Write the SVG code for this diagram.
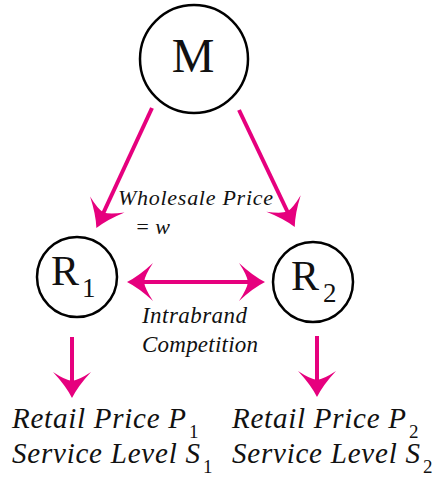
<svg xmlns="http://www.w3.org/2000/svg" width="436" height="479" viewBox="0 0 436 479">
<style>
.node{fill:#fff;stroke:#000;stroke-width:2.5}
.lbl{font-family:"Liberation Serif","Times New Roman",serif;fill:#111}
.it{font-style:italic}
.edge{stroke:#E6007E;stroke-width:4;fill:none}
</style>
<defs>
<marker id="ah" markerUnits="userSpaceOnUse" markerWidth="50" markerHeight="50" viewBox="-25 -25 50 50" refX="0" refY="0" orient="auto-start-reverse">
<path d="M11 0 Q-1 -6 -15 -19 Q-7 -7 -6 0 Q-7 7 -15 19 Q-1 6 11 0 Z" fill="#E6007E"/>
</marker>
</defs>
<rect width="436" height="479" fill="#fff"/>
<g id="connectors">
<line class="edge" x1="152" y1="108" x2="101" y2="218" marker-end="url(#ah)"/>
<line class="edge" x1="239" y1="110" x2="290" y2="217" marker-end="url(#ah)"/>
<line class="edge" x1="138" y1="282" x2="254" y2="282" marker-start="url(#ah)" marker-end="url(#ah)"/>
<line class="edge" x1="72" y1="337" x2="72" y2="387" marker-end="url(#ah)"/>
<line class="edge" x1="317" y1="336" x2="317" y2="386" marker-end="url(#ah)"/>
</g>
<g id="M">
<circle class="node" cx="194" cy="59" r="54"/>
<text class="lbl" x="193" y="72" font-size="48" text-anchor="middle">M</text>
</g>
<g id="R1">
<circle class="node" cx="77" cy="277" r="40"/>
<text class="lbl" x="51" y="285" font-size="42">R</text>
<text class="lbl" x="82" y="297" font-size="27">1</text>
</g>
<g id="R2">
<circle class="node" cx="313" cy="282" r="40"/>
<text class="lbl" x="291" y="290" font-size="42">R</text>
<text class="lbl" x="323" y="302" font-size="27">2</text>
</g>
<g id="wholesale">
<text class="lbl it" x="118" y="205" font-size="22" textLength="155" lengthAdjust="spacing">Wholesale Price</text>
<text class="lbl it" x="135" y="234" font-size="22">= w</text>
</g>
<g id="intrabrand">
<text class="lbl it" x="142" y="323" font-size="23" textLength="105" lengthAdjust="spacing">Intrabrand</text>
<text class="lbl it" x="142" y="352" font-size="23" textLength="116" lengthAdjust="spacing">Competition</text>
</g>
<g id="out1">
<text class="lbl it" x="12" y="428" font-size="29" textLength="174" lengthAdjust="spacing">Retail Price P</text>
<text class="lbl" x="189" y="438" font-size="19">1</text>
<text class="lbl it" x="12" y="463" font-size="29" textLength="188" lengthAdjust="spacing">Service Level S</text>
<text class="lbl" x="203" y="473" font-size="19">1</text>
</g>
<g id="out2">
<text class="lbl it" x="232" y="428" font-size="29" textLength="174" lengthAdjust="spacing">Retail Price P</text>
<text class="lbl" x="409" y="438" font-size="19">2</text>
<text class="lbl it" x="232" y="463" font-size="29" textLength="188" lengthAdjust="spacing">Service Level S</text>
<text class="lbl" x="423" y="473" font-size="19">2</text>
</g>
</svg>
